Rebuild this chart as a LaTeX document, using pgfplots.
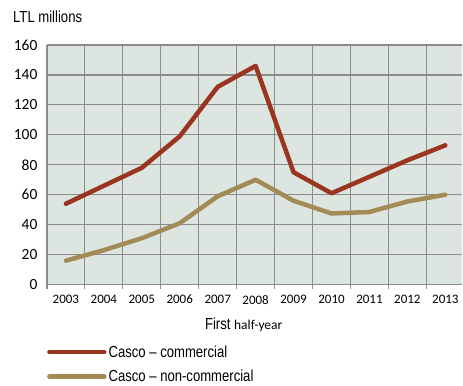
\documentclass[border=0pt]{standalone}
\usepackage{pgfplots}
\pgfplotsset{compat=1.18}
\usepackage{fontspec}
\setmainfont{Carlito}
\newfontfamily\narrowfont[FakeStretch=0.82]{Liberation Sans}
\definecolor{bgc}{HTML}{DDE5E0}
\definecolor{gridc}{HTML}{8C8C8C}
\definecolor{redc}{HTML}{9A3520}
\definecolor{tanc}{HTML}{A38B55}
\begin{document}
\begin{tikzpicture}
\begin{axis}[
  name=ax,
  scale only axis,
  width=416pt, height=240pt,
  xmin=-0.5, xmax=10.45,
  ymin=0, ymax=160,
  ytick={0,20,...,160},
  xtick={0,...,10},
  xticklabels={2003,2004,2005,2006,2007,2008,2009,2010,2011,2012,2013},
  minor xtick={-0.5,0.5,...,10.5},
  xminorgrids=true, xmajorgrids=false, ymajorgrids=true,
  major tick length=0pt,
  minor tick length=4pt,
  tick align=outside,
  tick style={gridc, line width=1.2pt},
  grid style={gridc, line width=1.2pt},
  minor grid style={gridc, line width=1.2pt},
  axis background/.style={fill=bgc},
  axis line style={gridc, line width=1.2pt},
  axis x line*=bottom,
  axis y line*=left,
  separate axis lines,
  every x tick label/.append style={font=\fontsize{13}{14}\selectfont, yshift=-7pt},
  every y tick label/.append style={font=\fontsize{15.5}{16}\selectfont, xshift=-6pt},
  /pgf/number format/assume math mode=true,
  legend style={at={(0,-0.245)}, anchor=north west, draw=none, fill=none,
    font=\narrowfont\fontsize{16}{17}\selectfont, row sep=7.5pt,
    inner xsep=0pt, inner ysep=0pt},
  legend cell align=left,
  legend image code/.code={\draw[#1] (0pt,0pt) -- (55pt,0pt);},
  clip=false,
]
\draw[gridc, line width=1.2pt] (rel axis cs:0,1) -- (rel axis cs:1,1);
\addplot[redc, line width=4.5pt, line join=round, line cap=round] coordinates {
(0,54) (1,66) (2,78) (3,99) (4,132) (5,146) (6,75) (7,61) (8,72) (9,83) (10,93)};
\addlegendentry{Casco – commercial}
\addplot[tanc, line width=4.5pt, line join=round, line cap=round] coordinates {
(0,16) (1,23) (2,31) (3,41) (4,59) (5,70) (6,56) (7,47.5) (8,48.5) (9,55.5) (10,60)};
\addlegendentry{Casco – non-commercial}
\end{axis}
\node[anchor=west, inner sep=0pt, font=\narrowfont\fontsize{16}{17}\selectfont] at ([shift={(-34pt,28pt)}]ax.north west) {LTL millions};
\node[inner sep=0pt, font=\narrowfont\fontsize{16}{17}\selectfont] at ([shift={(197pt,-40pt)}]ax.south west) {First {\rmfamily\fontsize{13.5}{14}\selectfont half-year}};
\path[use as bounding box] ([shift={(-47pt,-98pt)}]ax.south west) rectangle ([shift={(0pt,45pt)}]ax.north east);
\end{tikzpicture}
\end{document}
